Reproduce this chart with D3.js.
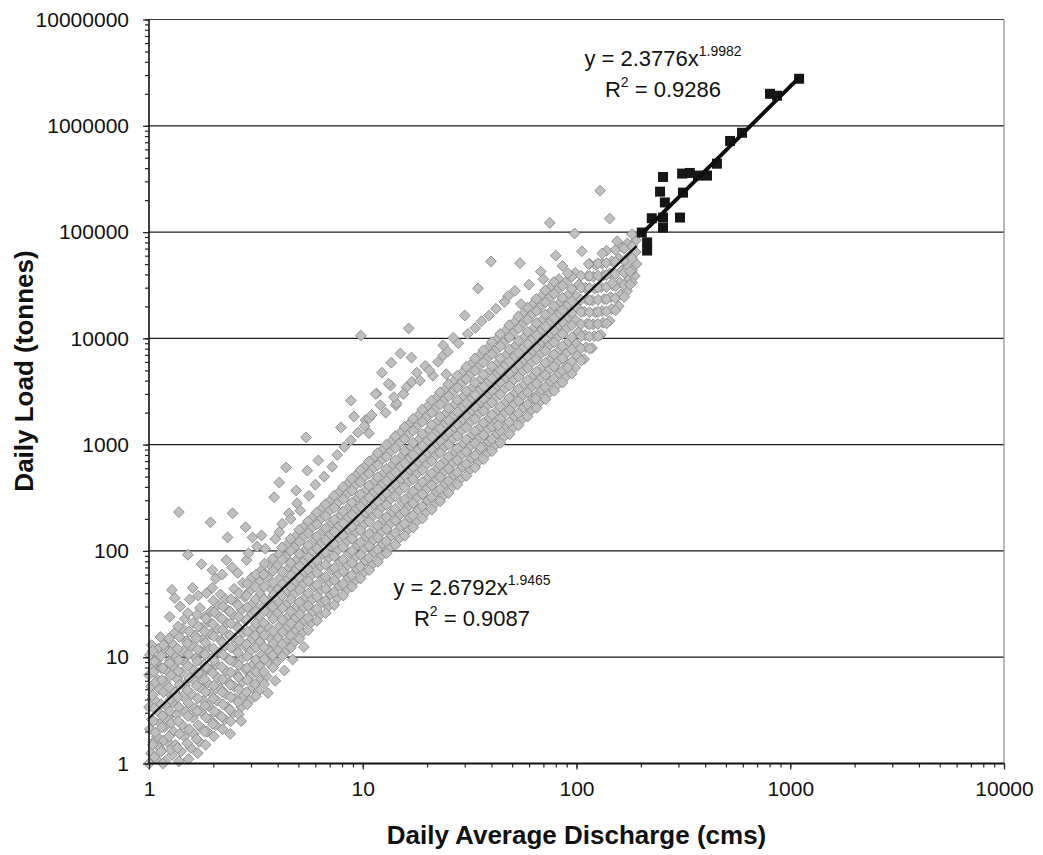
<!DOCTYPE html>
<html>
<head>
<meta charset="utf-8">
<script src="https://cdn.jsdelivr.net/npm/d3@7"></script>
<style>
body { margin: 0; background: #fff; }
svg { font-family: "Liberation Sans", Arial, sans-serif; }
</style>
</head>
<body>
<div id="chart"></div>
<script>
var width = 1043;
var height = 855;

var plotLeft = 149;
var plotRight = 1004;
var plotTop = 19.5;
var plotBottom = 763.5;

// Axis values
var xTickValues = [1, 10, 100, 1000, 10000];
var yTickValues = [1, 10, 100, 1000, 10000, 100000, 1000000, 10000000];

// Fits: [coefficient, exponent, R2]
var grayFit = [2.6792, 1.9465, 0.9087];
var blackFit = [2.3776, 1.9982, 0.9286];

// Gray series, main band (discharge, load)
var grayPoints = [
    [1,1],[1.02,1.25],[1.05,1.6],[1.01,2.1],[1.03,2.6],[1,3.4],[1.04,4.1],[1.02,5.3],[1,6.8],[1.05,8.1],[1.01,10.5],[1.03,13],
    [1.08,1.1],[1.12,1.4],[1.09,1.8],[1.13,2.4],[1.1,3.1],[1.07,3.9],[1.12,5],[1.1,6.1],[1.14,7.9],[1.09,9.4],[1.11,12],[1.13,15.5],
    [1.19,1.05],[1.22,1.6],[1.18,2.2],[1.23,2.7],[1.2,3.5],[1.24,4.6],[1.19,5.9],[1.21,7.5],[1.25,9.3],[1.2,11.6],[1.23,14],
    [1.28,1.2],[1.33,1.5],[1.3,2],[1.35,2.9],[1.29,3.8],[1.32,4.7],[1.36,6.2],[1.3,8.1],[1.34,10.2],[1.28,13.5],[1.32,17],
    [1.41,1.3],[1.46,1.8],[1.43,2.3],[1.49,3.1],[1.44,4.3],[1.47,5.5],[1.42,7.2],[1.48,8.8],[1.45,11.5],[1.5,14.2],[1.44,18.5],[1.47,23],
    [1.57,1.4],[1.62,1.9],[1.6,2.7],[1.65,3.3],[1.58,4.5],[1.63,6],[1.6,7.7],[1.66,9.8],[1.59,12.7],[1.64,16],[1.61,21],
    [1.72,1.6],[1.78,2.1],[1.75,3.1],[1.8,3.9],[1.73,5.2],[1.77,6.9],[1.81,8.6],[1.74,11.5],[1.79,14.8],[1.76,19],[1.82,24],[1.73,29],
    [1.87,2.0],[1.93,2.6],[1.9,3.5],[1.96,4.6],[1.88,5.7],[1.92,7.6],[1.97,9.8],[1.89,12.3],[1.94,16.5],[1.9,21.5],[1.95,27],
    [2.05,2.3],[2.12,2.9],[2.08,3.9],[2.15,5.1],[2.1,6.4],[2.06,8.5],[2.13,11],[2.17,14.5],[2.09,18.5],[2.14,24],[2.1,31],[2.16,39],
    [2.26,2.6],[2.33,3.4],[2.29,4.5],[2.36,5.8],[2.3,7.4],[2.34,9.7],[2.27,12.8],[2.38,16],[2.31,21],[2.35,27.5],[2.28,35],
    [2.46,3.0],[2.53,4.1],[2.5,5.3],[2.57,6.9],[2.48,9.1],[2.55,11.8],[2.51,15],[2.59,19.5],[2.47,25],[2.54,33],[2.5,44],
    [2.7,3.4],[2.78,4.4],[2.74,5.9],[2.82,7.7],[2.72,9.8],[2.79,13],[2.76,17],[2.84,22],[2.71,28],[2.8,37],[2.75,50],
    [2.95,3.9],[3.04,5.1],[2.99,6.7],[3.08,8.6],[2.97,11.4],[3.03,14.8],[3.1,19],[3,25],[3.06,32],[2.96,42],[3.02,56],
    [3.25,4.8],[3.34,6.2],[3.28,8.3],[3.38,10.6],[3.3,13.9],[3.36,18],[3.27,23],[3.4,30],[3.32,39],[3.29,51],[3.37,66],
    [3.55,6.6],[3.65,8.8],[3.6,11.8],[3.7,15.2],[3.58,19.5],[3.66,26],[3.62,34],[3.72,44],[3.57,57],[3.68,74],
    [3.93,8.9],[4.04,11.6],[4,15],[4.1,19.8],[3.96,26],[4.06,33],[4.01,43],[4.12,56],[3.95,72],[4.08,94],
    [4.33,11],[4.45,14.3],[4.38,18.8],[4.5,24.5],[4.36,31],[4.47,41],[4.4,53],[4.52,69],[4.35,88],[4.46,116],
    [4.73,13.5],[4.86,17.8],[4.8,23],[4.92,30],[4.75,39],[4.88,51],[4.82,65],[4.95,84],[4.77,108],[4.9,140],
    [5.22,17],[5.35,22],[5.28,29],[5.42,37],[5.25,48],[5.38,63],[5.3,80],[5.45,104],[5.24,134],[5.36,172],
    [5.72,21],[5.86,27],[5.79,35],[5.93,46],[5.75,59],[5.89,76],[5.81,99],[5.96,128],[5.74,163],[5.88,210],
    [6.3,25],[6.46,33],[6.38,43],[6.53,55],[6.33,72],[6.49,93],[6.4,120],[6.56,155],[6.32,198],[6.48,255],
    [6.9,30],[7.07,39],[6.98,51],[7.15,66],[6.93,86],[7.1,111],[7.01,143],[7.18,184],[6.92,235],[7.08,300],
    [7.6,36],[7.78,47],[7.68,61],[7.86,79],[7.63,102],[7.8,132],[7.71,170],[7.9,219],[7.62,282],[7.79,360],
    [8.38,43],[8.58,56],[8.47,73],[8.67,95],[8.42,123],[8.6,159],[8.51,205],[8.72,265],[8.4,340],[8.59,436],
    [9.17,52],[9.39,68],[9.27,88],[9.48,114],[9.21,148],[9.42,191],[9.3,247],[9.53,318],[9.19,410],[9.4,525],
    [10.05,62],[10.3,81],[10.17,105],[10.4,136],[10.1,176],[10.33,228],[10.2,295],[10.45,380],[10.08,490],[10.3,630],
    [11.03,74],[11.3,96],[11.16,125],[11.42,162],[11.08,210],[11.35,272],[11.2,352],[11.47,455],[11.05,585],[11.32,750],
    [12.12,89],[12.41,116],[12.25,150],[12.55,195],[12.17,252],[12.46,327],[12.3,423],[12.6,546],[12.14,702],[12.43,900],
    [13.3,107],[13.62,139],[13.45,180],[13.78,233],[13.36,302],[13.68,391],[13.5,506],[13.84,653],[13.33,840],[13.65,1080],
    [14.78,131],[15.13,170],[14.95,220],[15.3,285],[14.84,369],[15.2,477],[15,617],[15.38,797],[14.8,1025],[15.16,1320],
    [16.26,158],[16.64,205],[16.44,265],[16.83,343],[16.32,444],[16.72,574],[16.5,742],[16.92,958],[16.28,1233],[16.68,1590],
    [17.74,187],[18.15,243],[17.94,314],[18.36,406],[17.8,525],[18.24,680],[18,878],[18.46,1133],[17.76,1460],[18.2,1880],
    [19.7,230],[20.17,298],[19.93,385],[20.4,498],[19.78,644],[20.27,833],[20,1077],[20.5,1390],[19.74,1790],[20.22,2310],
    [21.68,277],[22.18,359],[21.92,464],[22.44,600],[21.75,776],[22.3,1004],[22,1298],[22.56,1676],[21.7,2160],[22.24,2780],
    [23.65,328],[24.2,425],[23.92,550],[24.48,711],[23.73,920],[24.32,1190],[24,1538],[24.6,1986],[23.68,2560],[24.27,3300],
    [26.1,398],[26.72,515],[26.4,666],[27.03,862],[26.2,1115],[26.85,1442],[26.5,1864],[27.16,2408],[26.13,3103],[26.78,4000],
    [28.58,474],[29.24,614],[28.9,794],[29.58,1028],[28.68,1330],[29.38,1720],[29,2223],[29.72,2872],[28.6,3700],[29.3,4770],
    [31.54,575],[32.27,744],[31.9,963],[32.64,1246],[31.64,1612],[32.42,2085],[32,2695],[32.8,3482],[31.56,4487],[32.34,5780],
    [34.5,684],[35.3,886],[34.9,1146],[35.7,1483],[34.6,1920],[35.46,2483],[35,3210],[35.87,4146],[34.52,5344],[35.37,6880],
    [37.95,822],[38.83,1065],[38.38,1378],[39.27,1783],[38.07,2307],[39,2985],[38.5,3858],[39.46,4984],[37.97,6423],[38.9,8270],
    [41.4,975],[42.36,1262],[41.87,1633],[42.84,2113],[41.53,2734],[42.55,3537],[42,4572],[43.05,5906],[41.42,7612],[42.44,9800],
    [45.34,1165],[46.4,1508],[45.86,1951],[46.92,2525],[45.49,3267],[46.6,4227],[46,5465],[47.15,7058],[45.36,9097],[46.48,11700],
    [50.27,1425],[51.44,1845],[50.84,2387],[52.02,3089],[50.43,3997],[51.67,5172],[51,6686],[52.27,8635],[50.29,11130],[51.53,14300],
    [55.2,1709],[56.48,2212],[55.83,2862],[57.12,3704],[55.38,4793],[56.73,6202],[56,8018],[57.4,10356],[55.22,13350],[56.58,17150],
    [61.1,2087],[62.53,2701],[61.81,3495],[63.24,4523],[61.31,5853],[62.81,7574],[62,9791],[63.55,12646],[61.14,16300],[62.64,20950],
    [67,2497],[68.58,3232],[67.8,4182],[69.36,5411],[67.25,7003],[68.88,9062],[68,11714],[69.7,15130],[67.06,19500],[68.7,25060],
    [73.92,3023],[75.64,3912],[74.77,5062],[76.5,6550],[74.17,8476],[75.97,10969],[75,14180],[76.87,18315],[73.97,23600],[75.77,30340],
    [80.83,3596],[82.7,4654],[81.75,6022],[83.64,7793],[81.09,10084],[83.06,13050],[82,16870],[84.05,21790],[80.87,28080],[82.84,36100],
    [88.7,4313],[90.77,5581],[89.72,7222],[91.8,9346],[89,12093],[91.16,15650],[90,20230],[92.25,26130],[88.76,33670],
    [98.55,5296],[100.85,6853],[99.7,8868],[102,11476],[98.9,14850],[101.3,19216],[100,24840],[102.5,32080],[98.6,41340],
    [108.4,6380],[110.9,8255],[109.65,10682],[112.2,13823],[108.8,17890],[111.4,23150],[110,29920],[112.75,38640],
    [118.26,8100],[121,10480],[119.6,13560],[122.4,17550],[118.7,22710],[121.55,29390],[120,38000],[123,49000],
    [130,10800],[133.1,13970],[131.6,18080],[134.6,23400],[130.5,30280],[133.7,39180],[132,50600],
    [142.9,14600],[146.2,18900],[144.5,24450],[147.9,31640],[143.4,40950],[146.9,53000],
    [157.7,20100],[161.3,26000],[159.5,33650],[163.2,43550],[158.2,56350],[162,72900],
    [172.5,27900],[176.5,36100],[174.5,46700],[178.5,60450],[173,78200],
    [187.3,38800],[191,50200],[189.2,64950],[190,84000]
];

// Gray series, more of the band, between the columns above
var grayPointsMid = [
    [1.06,1.15],[1.04,1.5],[1.07,1.95],[1.05,2.5],[1.06,3.3],[1.04,4.4],[1.07,5.8],[1.05,7.3],[1.06,9.1],[1.04,11.5],
    [1.16,1.0],[1.14,1.3],[1.17,1.65],[1.15,2.2],[1.16,2.8],[1.14,3.6],[1.17,4.7],[1.15,6.1],[1.16,7.9],[1.14,10.3],[1.17,13],
    [1.26,1.35],[1.24,1.8],[1.27,2.4],[1.25,3.1],[1.26,4],[1.24,5.2],[1.27,6.8],[1.25,8.8],[1.26,11.2],[1.24,15],
    [1.38,1.05],[1.36,1.4],[1.39,1.9],[1.37,2.5],[1.38,3.4],[1.36,4.2],[1.39,5.5],[1.37,7.4],[1.38,9.4],[1.36,12],[1.39,15.5],[1.37,19.5],
    [1.53,1.1],[1.51,1.55],[1.54,2.1],[1.52,2.8],[1.53,3.7],[1.51,4.9],[1.54,6.4],[1.52,8.3],[1.53,10.6],[1.51,13.5],[1.54,17.5],[1.52,26],
    [1.69,1.25],[1.67,1.7],[1.7,2.3],[1.68,3.1],[1.69,4.1],[1.67,5.4],[1.7,7.1],[1.68,9.2],[1.69,11.8],[1.67,15],[1.7,19.5],[1.68,25],
    [1.84,1.5],[1.82,2],[1.85,2.7],[1.83,3.5],[1.84,4.7],[1.82,6.2],[1.85,8.1],[1.83,10.6],[1.84,13.7],[1.82,17.5],[1.85,23],
    [2.01,1.8],[1.99,2.35],[2.02,3.1],[2,4.1],[2.01,5.4],[1.99,7.1],[2.02,9.3],[2,12.1],[2.01,15.7],[1.99,20.5],[2.02,26.5],[2,34],
    [2.21,2.1],[2.19,2.75],[2.22,3.6],[2.2,4.7],[2.21,6.2],[2.19,8.1],[2.22,10.6],[2.2,13.8],[2.21,18],[2.19,23],[2.22,30],
    [2.41,2.5],[2.39,3.2],[2.42,4.2],[2.4,5.5],[2.41,7.2],[2.39,9.4],[2.42,12.3],[2.4,16],[2.41,20.8],[2.39,27],[2.42,35],
    [2.63,2.9],[2.61,3.8],[2.64,5],[2.62,6.5],[2.63,8.4],[2.61,11],[2.64,14.3],[2.62,18.7],[2.63,24],[2.61,31],[2.64,40],
    [2.88,3.6],[2.86,4.7],[2.89,6.1],[2.87,7.9],[2.88,10.2],[2.86,13.3],[2.89,17.4],[2.87,22.6],[2.88,29.5],[2.86,38],[2.89,49],
    [3.16,4.3],[3.14,5.6],[3.17,7.3],[3.15,9.5],[3.16,12.3],[3.14,16],[3.17,20.8],[3.15,27],[3.16,35],[3.14,46],[3.17,60],
    [3.46,5.6],[3.44,7.3],[3.47,9.6],[3.45,12.4],[3.46,16.1],[3.44,21],[3.47,27],[3.45,35],[3.46,46],[3.44,60],[3.47,76],
    [3.81,8],[3.79,10.4],[3.82,13.5],[3.8,17.6],[3.81,22.9],[3.79,29.8],[3.82,38.7],[3.8,50],[3.81,65],[3.79,84],
    [4.21,10.2],[4.19,13.3],[4.22,17.3],[4.2,22.5],[4.21,29],[4.19,38],[4.22,49],[4.2,64],[4.21,83],[4.19,108],
    [4.61,12.3],[4.59,16],[4.62,20.8],[4.6,27],[4.61,35],[4.59,46],[4.62,59],[4.6,77],[4.61,100],[4.59,130],
    [5.06,15],[5.04,19.5],[5.07,25.3],[5.05,33],[5.06,43],[5.04,56],[5.07,72],[5.05,94],[5.06,122],[5.04,158],
    [5.56,18],[5.54,23.5],[5.57,30.5],[5.55,40],[5.56,52],[5.54,67],[5.57,87],[5.55,113],[5.56,147],[5.54,190],
    [6.11,22],[6.09,28.5],[6.12,37],[6.1,48],[6.11,62],[6.09,81],[6.12,105],[6.1,137],[6.11,178],[6.09,230],
    [6.71,26],[6.69,34],[6.72,44],[6.7,57],[6.71,74],[6.69,97],[6.72,126],[6.7,163],[6.71,212],[6.69,275],
    [7.36,31],[7.34,41],[7.37,53],[7.35,69],[7.36,89],[7.34,116],[7.37,151],[7.35,196],[7.36,255],[7.34,330],
    [8.11,38],[8.09,49],[8.12,64],[8.1,83],[8.11,108],[8.09,140],[8.12,182],[8.1,236],[8.11,307],[8.09,400],
    [8.91,46],[8.89,59],[8.92,77],[8.9,100],[8.91,130],[8.89,169],[8.92,219],[8.9,285],[8.91,370],[8.89,480],
    [9.76,55],[9.74,71],[9.77,92],[9.75,120],[9.76,156],[9.74,202],[9.77,262],[9.75,341],[9.76,443],[9.74,575],
    [10.72,66],[10.68,86],[10.73,111],[10.7,145],[10.71,188],[10.69,244],[10.73,317],[10.7,412],[10.71,535],[10.69,695],
    [11.77,79],[11.73,103],[11.78,133],[11.75,173],[11.76,225],[11.74,292],[11.78,380],[11.75,494],[11.76,642],[11.74,835],
    [12.92,95],[12.88,123],[12.93,160],[12.9,208],[12.91,270],[12.89,351],[12.93,456],[12.9,593],[12.91,770],[12.89,1000],
    [14.22,114],[14.18,148],[14.23,193],[14.2,250],[14.21,325],[14.19,423],[14.23,550],[14.2,714],[14.21,928],[14.19,1200],
    [15.72,139],[15.68,181],[15.73,235],[15.7,305],[15.71,397],[15.69,516],[15.73,670],[15.7,871],[15.71,1130],[15.69,1470],
    [17.22,166],[17.18,216],[17.23,280],[17.2,364],[17.21,473],[17.19,615],[17.23,800],[17.2,1040],[17.21,1350],[17.19,1750],
    [19.03,202],[18.97,262],[19.04,341],[19,443],[19.02,576],[18.98,749],[19.04,973],[19,1265],[19.02,1645],[18.98,2140],
    [21.03,245],[20.97,319],[21.04,414],[21,538],[21.02,700],[20.98,910],[21.04,1183],[21,1538],[21.02,2000],[20.98,2600],
    [23.03,293],[22.97,381],[23.04,495],[23,643],[23.02,836],[22.98,1087],[23.04,1413],[23,1837],[23.02,2388],[22.98,3100],
    [25.23,350],[25.17,455],[25.24,592],[25.2,770],[25.22,1000],[25.18,1300],[25.24,1690],[25.2,2200],[25.22,2860],[25.18,3720],
    [27.74,421],[27.66,547],[27.75,711],[27.7,925],[27.72,1202],[27.68,1563],[27.75,2032],[27.7,2641],[27.72,3433],[27.68,4460],
    [30.54,508],[30.46,660],[30.55,858],[30.5,1116],[30.52,1451],[30.48,1886],[30.55,2452],[30.5,3187],[30.52,4143],[30.48,5390],
    [33.54,610],[33.46,793],[33.55,1031],[33.5,1340],[33.52,1742],[33.48,2265],[33.55,2944],[33.5,3827],[33.52,4976],[33.48,6470],
    [36.75,729],[36.65,947],[36.76,1231],[36.7,1600],[36.72,2080],[36.68,2705],[36.76,3516],[36.7,4571],[36.72,5942],[36.68,7725],
    [40.25,870],[40.15,1131],[40.26,1470],[40.2,1912],[40.22,2485],[40.18,3231],[40.26,4200],[40.2,5460],[40.22,7100],[40.18,9230],
    [44.06,1037],[43.94,1348],[44.07,1753],[44,2279],[44.03,2962],[43.97,3851],[44.07,5006],[44,6508],[44.03,8460],[43.97,11000],
    [48.56,1254],[48.44,1630],[48.57,2120],[48.5,2755],[48.53,3582],[48.47,4656],[48.57,6053],[48.5,7870],[48.53,10230],[48.47,13300],
    [53.57,1519],[53.43,1974],[53.58,2567],[53.5,3337],[53.53,4338],[53.47,5639],[53.58,7331],[53.5,9530],[53.53,12390],[53.47,16100],
    [59.07,1838],[58.93,2389],[59.08,3106],[59,4038],[59.03,5249],[58.97,6824],[59.08,8870],[59,11530],[59.03,15000],[58.97,19500],
    [65.08,2220],[64.92,2886],[65.09,3752],[65,4878],[65.04,6341],[64.96,8243],[65.09,10716],[65,13930],[65.04,18110],[64.96,23540],
    [71.6,2675],[71.4,3478],[71.6,4521],[71.5,5877],[71.55,7640],[71.45,9932],[71.6,12912],[71.5,16785],[71.55,21820],[71.45,28370],
    [78.6,3209],[78.4,4172],[78.6,5423],[78.5,7050],[78.55,9165],[78.45,11914],[78.6,15488],[78.5,20134],[78.55,26175],[78.45,34000],
    [86.1,3834],[85.9,4984],[86.1,6479],[86,8423],[86.05,10950],[85.95,14235],[86.1,18505],[86,24056],[86.05,31275],
    [95.1,4655],[94.9,6051],[95.1,7866],[95,10226],[95.05,13294],[94.95,17282],[95.1,22467],[95,29207],[95.05,37970],
    [105.2,6200],[104.8,8060],[105.2,10480],[105,13620],[105.1,17700],[104.9,23010],[105.2,29920],[105,38900],
    [115.2,8000],[114.8,10400],[115.2,13520],[115,17580],[115.1,22850],[114.9,29700],[115.2,38600],[115,50200],
    [126.2,10500],[125.8,13650],[126.2,17750],[126,23070],[126.1,30000],[125.9,39000],[126.2,50700],
    [138.2,13800],[137.8,17940],[138.2,23320],[138,30320],[138.1,39400],[137.9,51240],[138.2,66600],
    [152.2,18300],[151.8,23800],[152.2,30930],[152,40200],[152.1,52300],[151.9,68000],
    [167.2,24500],[166.8,31850],[167.2,41400],[167,53800],[167.1,70000],
    [182.2,33500],[181.8,43550],[182.2,56600],[182,73600],[182.1,95700]
];

// Gray series, scattered points around the band
var grayOutliers = [
    [1.38,232],[1.94,186],[2.46,226],[2.83,167],[2.33,134],[1.52,92],[1.76,75],[1.98,66],[2.3,82],[2.86,82],
    [1.28,43],[1.32,36],[1.6,45],[1.98,45],[3.05,134],[3.36,140],[4.07,150],[4.38,610],[4.07,440],[3.85,320],
    [4.88,370],[4.52,226],[5.43,1170],[5.5,570],[6.2,710],[4.93,280],[7.9,1450],[8.8,2600],[9.1,1840],[11.6,3020],
    [13.5,3600],[12.1,2350],[14.3,2350],[10.3,1700],[10.7,1280],[9.8,10600],[16.4,12400],[39.8,53000],[34.6,29500],
    [54.4,51000],[68,42500],[75,122000],[98,97000],[129,245000],[143,134000],[106,66000],[132,63000],[114,50000],
    [91,41000],[155,82000],[178,32000],[147,33000],[178,42500],[30,16400],[39,16400],[33.6,12500],[26.5,10100],
    [23.8,8600],[23.8,6900],[51.5,28000],[47.8,25000],[55,21000],[15,7200],[16.9,6600],[13.6,5900],[19.6,5500],
    [12.3,4750],[17.9,4750],[21.3,4450],[13.2,3750],[16,3450],[24.6,4600],[14.4,2450],[11.5,3000],[10.7,1770],
    [64.5,2700],[91,5300],[43,1520],[35.7,940],
    [1.25,24],[1.4,30],[1.55,35],[1.7,38],[1.86,40],[2.05,55],[2.2,60],[2.45,70],[2.6,62],[2.92,95],[3.2,110],[3.5,105],
    [3.9,130],[4.2,180],[4.6,200],[5.1,240],[5.6,330],[6.0,420],[6.6,500],[7.2,620],[7.6,800],[8.2,950],[8.8,1100],
    [9.5,1300],[10.2,1500],[11,1900],[12.8,2000],[14,2800],[15.5,3000],[17,3900],[18.5,4000],[20.5,5000],[22.5,6000],
    [25,7500],[28,9000],[31,11000],[36,14500],[42,19000],[46,22000],[60,32000],[70,36000],[80,60000],[86,48000],
    [3.6,4.6],[3.9,6],[4.3,7.5],[4.7,9.5],[5.3,12.5],[2.4,1.9],[2.7,2.5]
];

// Black series (high flows)
var blackPoints = [
    [1100,2770000],[804,2000000],[867,1920000],[595,860000],[523,720000],[454,440000],[408,340000],[370,340000],
    [339,360000],[312,355000],[254,330000],[246,240000],[315,235000],[259,190000],[254,137000],[225,135000],
    [254,110000],[305,137000],[202,99000],[214,80000],[214,67000]
];

var xScale = d3.scaleLog().domain([1, 10000]).range([plotLeft, plotRight]);
var yScale = d3.scaleLog().domain([1, 10000000]).range([plotBottom, plotTop]);

function addGridlines(svg) {
    svg.append('g')
        .attr('class', 'grid')
        .selectAll('line')
        .data(yTickValues.slice(1, -1))
        .enter()
        .append('line')
        .attr('x1', plotLeft)
        .attr('x2', plotRight)
        .attr('y1', function (d) { return yScale(d); })
        .attr('y2', function (d) { return yScale(d); })
        .attr('stroke', '#1c1c1c')
        .attr('stroke-width', 1.3);
}

function addFrame(svg) {
    svg.append('line').attr('x1', plotLeft).attr('x2', plotRight).attr('y1', plotTop).attr('y2', plotTop)
        .attr('stroke', '#3a3a3a').attr('stroke-width', 1.2);
    svg.append('line').attr('x1', plotRight).attr('x2', plotRight).attr('y1', plotTop).attr('y2', plotBottom)
        .attr('stroke', '#8a8a8a').attr('stroke-width', 1.2);
    svg.append('line').attr('x1', plotLeft).attr('x2', plotLeft).attr('y1', plotTop).attr('y2', plotBottom)
        .attr('stroke', '#111').attr('stroke-width', 1.6);
    svg.append('line').attr('x1', plotLeft).attr('x2', plotRight).attr('y1', plotBottom).attr('y2', plotBottom)
        .attr('stroke', '#111').attr('stroke-width', 2);
}

function addAxes(svg) {
    // minor ticks, one per integer step of each decade
    var xMinor = d3.axisBottom(xScale).tickValues(xScale.ticks()).tickFormat('').tickSize(4).tickSizeOuter(0);
    var yMinor = d3.axisLeft(yScale).tickValues(yScale.ticks()).tickFormat('').tickSize(4).tickSizeOuter(0);

    var xMajor = d3.axisBottom(xScale).tickValues(xTickValues).tickFormat(d3.format('d'))
        .tickSize(6).tickSizeOuter(0).tickPadding(12);
    var yMajor = d3.axisLeft(yScale).tickValues(yTickValues).tickFormat(d3.format('d'))
        .tickSize(6).tickSizeOuter(0).tickPadding(14);

    [[xMinor, 'translate(0,' + plotBottom + ')'], [xMajor, 'translate(0,' + plotBottom + ')'],
     [yMinor, 'translate(' + plotLeft + ',0)'], [yMajor, 'translate(' + plotLeft + ',0)']].forEach(function (a) {
        var g = svg.append('g').attr('transform', a[1]).call(a[0]);
        g.select('.domain').remove();
        g.selectAll('line').attr('stroke', '#222').attr('stroke-width', 1.2);
        g.selectAll('text').attr('font-size', 21).attr('fill', '#111')
            .attr('font-family', '"Liberation Sans", Arial, sans-serif');
    });
}

function addGrayPoints(svg) {
    var diamond = d3.symbol().type(d3.symbolSquare).size(58)();
    svg.append('g')
        .selectAll('path')
        .data(grayPoints.concat(grayPointsMid, grayOutliers))
        .enter()
        .append('path')
        .attr('d', diamond)
        .attr('transform', function (d) {
            return 'translate(' + xScale(d[0]) + ',' + yScale(d[1]) + ') rotate(45)';
        })
        .attr('fill', '#bfbfbf')
        .attr('stroke', '#8a8a8a')
        .attr('stroke-width', 0.9);
}

function addBlackPoints(svg) {
    var square = d3.symbol().type(d3.symbolSquare).size(100)();
    svg.append('g')
        .selectAll('path')
        .data(blackPoints)
        .enter()
        .append('path')
        .attr('d', square)
        .attr('transform', function (d) {
            return 'translate(' + xScale(d[0]) + ',' + yScale(d[1]) + ')';
        })
        .attr('fill', '#161616');
}

function addTrendline(svg, points, fit, strokeWidth) {
    var xRange = d3.extent(points, function (d) { return d[0]; });
    var lineData = xRange.map(function (x) { return [x, fit[0] * Math.pow(x, fit[1])]; });
    svg.append('path')
        .datum(lineData)
        .attr('d', d3.line().x(function (d) { return xScale(d[0]); }).y(function (d) { return yScale(d[1]); }))
        .attr('fill', 'none')
        .attr('stroke', '#0e0e0e')
        .attr('stroke-width', strokeWidth);
}

function addEquation(svg, cx, y, fit) {
    var eq = svg.append('text').attr('x', cx).attr('y', y).attr('text-anchor', 'middle')
        .attr('font-size', 22).attr('fill', '#111');
    eq.append('tspan').text('y = ' + fit[0] + 'x');
    eq.append('tspan').attr('font-size', 14).attr('dy', -10).text(fit[1]);

    var r2 = svg.append('text').attr('x', cx).attr('y', y + 31).attr('text-anchor', 'middle')
        .attr('font-size', 22).attr('fill', '#111');
    r2.append('tspan').text('R');
    r2.append('tspan').attr('font-size', 14).attr('dy', -10).text('2');
    r2.append('tspan').attr('dy', 10).text(' = ' + fit[2]);
}

function addTitles(svg) {
    svg.append('text')
        .attr('x', (plotLeft + plotRight) / 2)
        .attr('y', 844)
        .attr('text-anchor', 'middle')
        .attr('font-size', 26)
        .attr('font-weight', 'bold')
        .attr('fill', '#111')
        .text('Daily Average Discharge (cms)');

    svg.append('text')
        .attr('transform', 'translate(33,' + 371 + ') rotate(-90)')
        .attr('text-anchor', 'middle')
        .attr('font-size', 26)
        .attr('font-weight', 'bold')
        .attr('fill', '#111')
        .text('Daily Load (tonnes)');
}

var svg = d3.select('#chart').append('svg')
    .attr('width', width)
    .attr('height', height);

svg.append('rect').attr('width', width).attr('height', height).attr('fill', '#fff');

addGridlines(svg);
addGrayPoints(svg);
addBlackPoints(svg);
addTrendline(svg, grayPoints.concat(grayPointsMid, grayOutliers), grayFit, 2.2);
addTrendline(svg, blackPoints, blackFit, 4);
addFrame(svg);
addAxes(svg);
addEquation(svg, 663, 66, blackFit);
addEquation(svg, 472, 595, grayFit);
addTitles(svg);
</script>
</body>
</html>
